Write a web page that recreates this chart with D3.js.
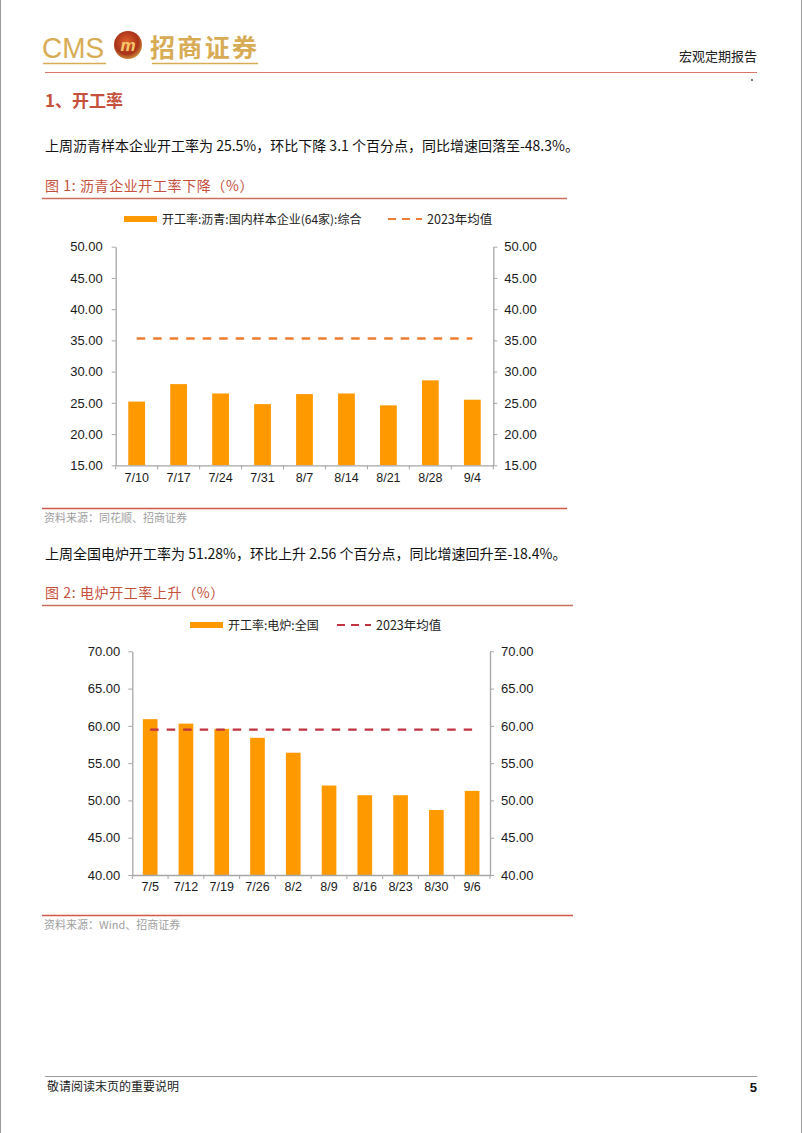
<!DOCTYPE html>
<html><head><meta charset="utf-8">
<script src="https://cdn.jsdelivr.net/npm/d3@7"></script>
<style>
html,body{margin:0;padding:0;background:#fff;}
svg{display:block;}
</style></head>
<body>
<svg id="page" width="802" height="1133"></svg>
<script>
// ---------- data ----------
const cats1 = ["7/10","7/17","7/24","7/31","8/7","8/14","8/21","8/28","9/4"];
const vals1 = [25.2, 28.0, 26.5, 24.8, 26.4, 26.5, 24.6, 28.6, 25.5];
const avg1 = [35.3, 35.3, 35.3, 35.3, 35.3, 35.3, 35.3, 35.3, 35.3];
const ticks1 = [15, 20, 25, 30, 35, 40, 45, 50];

const cats2 = ["7/5","7/12","7/19","7/26","8/2","8/9","8/16","8/23","8/30","9/6"];
const vals2 = [60.9, 60.3, 59.6, 58.4, 56.4, 52.0, 50.7, 50.7, 48.72, 51.28];
const avg2 = [59.5, 59.5, 59.5, 59.5, 59.5, 59.5, 59.5, 59.5, 59.5, 59.5];
const ticks2 = [40, 45, 50, 55, 60, 65, 70];

const legend1 = ["开工率:沥青:国内样本企业(64家):综合", "2023年均值"];
const legend2 = ["开工率:电炉:全国", "2023年均值"];

// ---------- page ----------
const svg = d3.select("#page");
const CJK = "'Noto Sans CJK SC','Noto Sans',sans-serif";
const LAT = "'Liberation Sans',Arial,'Noto Sans CJK SC',sans-serif";
const gold = "#D7AC55";
const red = "#C5503C";

// page frame edges
svg.append("line").attr("x1",0.5).attr("x2",0.5).attr("y1",0).attr("y2",1133).attr("stroke","#9a9a9a");
svg.append("line").attr("x1",801.5).attr("x2",801.5).attr("y1",0).attr("y2",1133).attr("stroke","#9a9a9a");

// header logo
svg.append("text").attr("x",42).attr("y",58).attr("font-family","'Liberation Sans Narrow','Liberation Sans',sans-serif")
  .attr("font-size",30).attr("fill",gold).attr("textLength",62).attr("lengthAdjust","spacingAndGlyphs").text("CMS");
svg.append("line").attr("x1",43).attr("x2",106).attr("y1",63.5).attr("y2",63.5).attr("stroke",gold).attr("stroke-width",1.5);
const defs = svg.append("defs");
const rg = defs.append("radialGradient").attr("id","lg").attr("cx","45%").attr("cy","40%").attr("r","60%");
rg.append("stop").attr("offset","0%").attr("stop-color","#E0622A");
rg.append("stop").attr("offset","70%").attr("stop-color","#A8321A");
rg.append("stop").attr("offset","100%").attr("stop-color","#C98A3A");
svg.append("circle").attr("cx",128).attr("cy",45).attr("r",14).attr("fill","url(#lg)");
svg.append("text").attr("x",128).attr("y",51).attr("text-anchor","middle").attr("font-family",LAT)
  .attr("font-style","italic").attr("font-weight","bold").attr("font-size",17).attr("fill","#F3C86A").text("m");
svg.append("text").attr("x",150).attr("y",57).attr("font-family",CJK).attr("font-size",25).attr("font-weight","bold")
  .attr("fill",gold).attr("textLength",107).text("招商证券");
svg.append("line").attr("x1",152).attr("x2",258).attr("y1",63.5).attr("y2",63.5).attr("stroke",gold).attr("stroke-width",1.5);
svg.append("text").attr("x",757).attr("y",61).attr("text-anchor","end").attr("font-family",CJK)
  .attr("font-size",13).attr("fill","#222").text("宏观定期报告");
svg.append("line").attr("x1",45).attr("x2",757).attr("y1",72.5).attr("y2",72.5).attr("stroke","#D8766A").attr("stroke-width",1);
svg.append("circle").attr("cx",752).attr("cy",80).attr("r",0.9).attr("fill","#333");

// section heading & paragraphs
svg.append("text").attr("x",45).attr("y",107).attr("font-family",CJK).attr("font-size",17).attr("font-weight","bold")
  .attr("fill",red).text("1、开工率");
svg.append("text").attr("x",45).attr("y",151).attr("font-family",CJK).attr("font-size",14).attr("fill","#111")
  .text("上周沥青样本企业开工率为 25.5%，环比下降 3.1 个百分点，同比增速回落至-48.3%。");
svg.append("text").attr("x",45).attr("y",559).attr("font-family",CJK).attr("font-size",14).attr("fill","#111")
  .text("上周全国电炉开工率为 51.28%，环比上升 2.56 个百分点，同比增速回升至-18.4%。");

// footer
svg.append("line").attr("x1",45).attr("x2",757).attr("y1",1076.5).attr("y2",1076.5).attr("stroke","#9a9a9a");
svg.append("text").attr("x",47).attr("y",1091).attr("font-family",CJK).attr("font-size",12).attr("fill","#222")
  .text("敬请阅读末页的重要说明");
svg.append("text").attr("x",757).attr("y",1092).attr("text-anchor","end").attr("font-family",LAT)
  .attr("font-size",13).attr("font-weight","bold").attr("fill","#111").text("5");

// ---------- chart builder ----------
function chart(o){
  const g = svg.append("g");
  // title
  g.append("text").attr("x",45).attr("y",o.titleY).attr("font-family",CJK).attr("font-size",14)
    .attr("letter-spacing",0.6).attr("fill",red).text(o.title);
  g.append("line").attr("x1",42).attr("x2",o.lineRight).attr("y1",o.titleY+7.5).attr("y2",o.titleY+7.5)
    .attr("stroke","#C9705C").attr("stroke-width",1.3);
  // legend
  const ly = o.legendY;
  g.append("rect").attr("x",o.legX[0]).attr("y",ly-3).attr("width",33).attr("height",6).attr("fill","#FF9900");
  g.append("text").attr("x",o.legX[0]+38).attr("y",ly+4.5).attr("font-family",CJK).attr("font-size",12)
    .attr("fill","#222").text(o.legend[0]);
  g.append("line").attr("x1",o.legX[1]).attr("x2",o.legX[1]+34).attr("y1",ly).attr("y2",ly)
    .attr("stroke",o.avgColor).attr("stroke-width",2.2).attr("stroke-dasharray","8,6");
  g.append("text").attr("x",o.legX[1]+39).attr("y",ly+4.5).attr("font-family",CJK).attr("font-size",12.5)
    .attr("fill","#222").text(o.legend[1]);

  const x = d3.scaleBand().domain(o.cats).range([o.left,o.right]).paddingInner(o.pad).paddingOuter(o.pad/2);
  const y = d3.scaleLinear().domain([o.ticks[0], o.ticks[o.ticks.length-1]]).range([o.bottom,o.top]);

  // bars
  g.selectAll("rect.bar").data(o.vals).enter().append("rect").attr("class","bar")
    .attr("x",(d,i)=>x(o.cats[i])).attr("width",x.bandwidth())
    .attr("y",d=>y(d)).attr("height",d=>o.bottom-y(d)).attr("fill","#FF9900");

  // average line
  const line = d3.line().x((d,i)=>x(o.cats[i])+x.bandwidth()/2).y(d=>y(d));
  g.append("path").datum(o.avg).attr("d",line).attr("fill","none").attr("stroke",o.avgColor)
    .attr("stroke-width",2.4).attr("stroke-dasharray","8.5,8");

  const fmt = d3.format(".2f");
  const styleAxis = sel => {
    sel.selectAll("path.domain").attr("stroke","#A6A6A6").attr("stroke-width",1.3);
    sel.selectAll(".tick line").attr("stroke","#A6A6A6");
    sel.selectAll("text").attr("font-family",LAT).attr("font-size",13).attr("fill","#1a1a1a");
  };
  const yl = g.append("g").attr("transform",`translate(${o.left},0)`)
    .call(d3.axisLeft(y).tickValues(o.ticks).tickFormat(fmt).tickSizeInner(4).tickSizeOuter(0).tickPadding(o.lpad));
  styleAxis(yl);
  const yr = g.append("g").attr("transform",`translate(${o.right},0)`)
    .call(d3.axisRight(y).tickValues(o.ticks).tickFormat(fmt).tickSizeInner(4).tickSizeOuter(0).tickPadding(o.rpad));
  styleAxis(yr);
  const xa = g.append("g").attr("transform",`translate(0,${o.bottom})`)
    .call(d3.axisBottom(x).tickSize(0).tickPadding(o.xpad));
  styleAxis(xa);
  xa.selectAll("text").attr("font-size",12.5);
  // category boundary ticks
  const bounds = o.cats.map(c=>x(c)-x.step()*o.pad/2).concat([o.right]);
  g.selectAll("line.bt").data(bounds).enter().append("line").attr("class","bt")
    .attr("x1",d=>d).attr("x2",d=>d).attr("y1",o.bottom).attr("y2",o.bottom+4).attr("stroke","#A6A6A6");

  // source
  g.append("line").attr("x1",42).attr("x2",o.lineRight).attr("y1",o.srcY-9.5).attr("y2",o.srcY-9.5)
    .attr("stroke","#D4564A").attr("stroke-width",1.3);
  g.append("text").attr("x",44).attr("y",o.srcY+4).attr("font-family",CJK).attr("font-size",11)
    .attr("fill","#a0a0a0").text(o.source);
}

chart({
  title:"图 1:  沥青企业开工率下降（%）", titleY:191, lineRight:567,
  legend:legend1, legendY:219, legX:[124,388], avgColor:"#ED7D31",
  cats:cats1, vals:vals1, avg:avg1, ticks:ticks1,
  left:115.7, right:493.3, top:246.7, bottom:465.3, pad:0.6, lpad:9, rpad:7, xpad:8,
  srcY:518, source:"资料来源：同花顺、招商证券"
});
chart({
  title:"图 2:  电炉开工率上升（%）", titleY:598, lineRight:573,
  legend:legend2, legendY:625, legX:[190,337], avgColor:"#C0323F",
  cats:cats2, vals:vals2, avg:avg2, ticks:ticks2,
  left:132.3, right:490, top:651.3, bottom:875, pad:0.59, lpad:8, rpad:7, xpad:7,
  srcY:925, source:"资料来源：Wind、招商证券"
});
</script>
</body></html>
